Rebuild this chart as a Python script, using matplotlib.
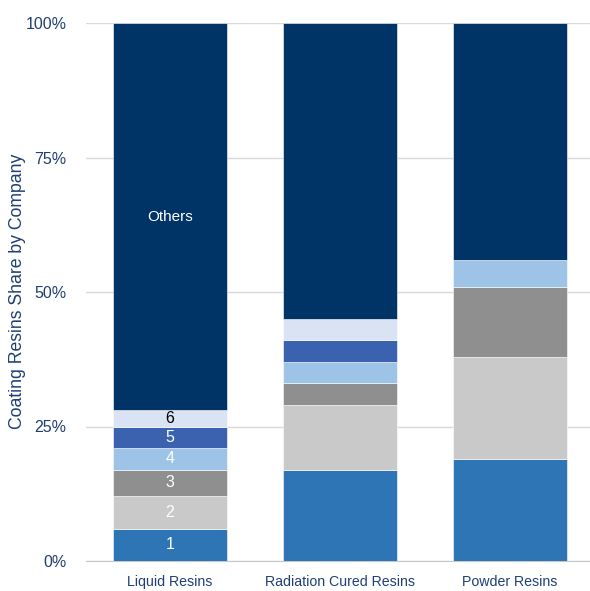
import matplotlib
matplotlib.use("Agg")
import matplotlib.pyplot as plt
import numpy as np

categories = ["Liquid Resins", "Radiation Cured Resins", "Powder Resins"]
series_names = ["1", "2", "3", "4", "5", "6", "Others"]
s1 = [6, 17, 19]
s2 = [6, 12, 19]
s3 = [5, 4, 13]
s4 = [4, 4, 5]
s5 = [4, 4, 0]
s6 = [3, 4, 0]
others = [72, 55, 44]
series = [s1, s2, s3, s4, s5, s6, others]
colors = ["#2E75B6", "#C9C9C9", "#8F8F8F", "#9DC3E6", "#3A62AE", "#DAE3F3", "#003366"]
label_colors = ["white", "white", "white", "white", "white", "black", "white"]
y_ticks = [0, 25, 50, 75, 100]
y_ticklabels = ["0%", "25%", "50%", "75%", "100%"]

plt.rcParams['font.family'] = ['Liberation Sans', 'DejaVu Sans']
text_color = "#1F3F73"

fig = plt.figure(figsize=(5.90, 5.91), dpi=100)
ax = fig.add_axes([86/590, 30/591, (590-86)/590, (561-23)/591])

x = np.arange(len(categories))
bottom = np.zeros(len(categories))
for i, (vals, col) in enumerate(zip(series, colors)):
    vals = np.array(vals, dtype=float)
    ax.bar(x, vals, bottom=bottom, width=0.67, color=col, edgecolor="white", linewidth=0.4, zorder=3)
    # labels only on the first bar
    if vals[0] > 0:
        txt = series_names[i]
        ax.text(x[0], bottom[0] + vals[0] / 2, txt, ha="center", va="center",
                color=label_colors[i], fontsize=11.5 if txt != "Others" else 11, zorder=4)
    bottom += vals

ax.set_xlim(-0.494, 2.47)
ax.set_ylim(0, 100)
ax.set_yticks(y_ticks)
ax.set_yticklabels(y_ticklabels, color=text_color, fontsize=11.5)
ax.set_xticks(x)
ax.set_xticklabels(categories, color=text_color, fontsize=10.2)
ax.tick_params(axis="y", length=0, pad=14)
ax.tick_params(axis="x", length=0, pad=10)
ax.yaxis.grid(True, color="#D9D9D9", linewidth=1, zorder=0)
for sp in ["top", "right", "left"]:
    ax.spines[sp].set_visible(False)
ax.spines["bottom"].set_color("#C8C8C8")
ax.set_ylabel("Coating Resins Share by Company", color=text_color, fontsize=12.7)
ax.yaxis.set_label_coords((26 - 86) / 504, 0.502)

fig.savefig("out.png", dpi=100)
